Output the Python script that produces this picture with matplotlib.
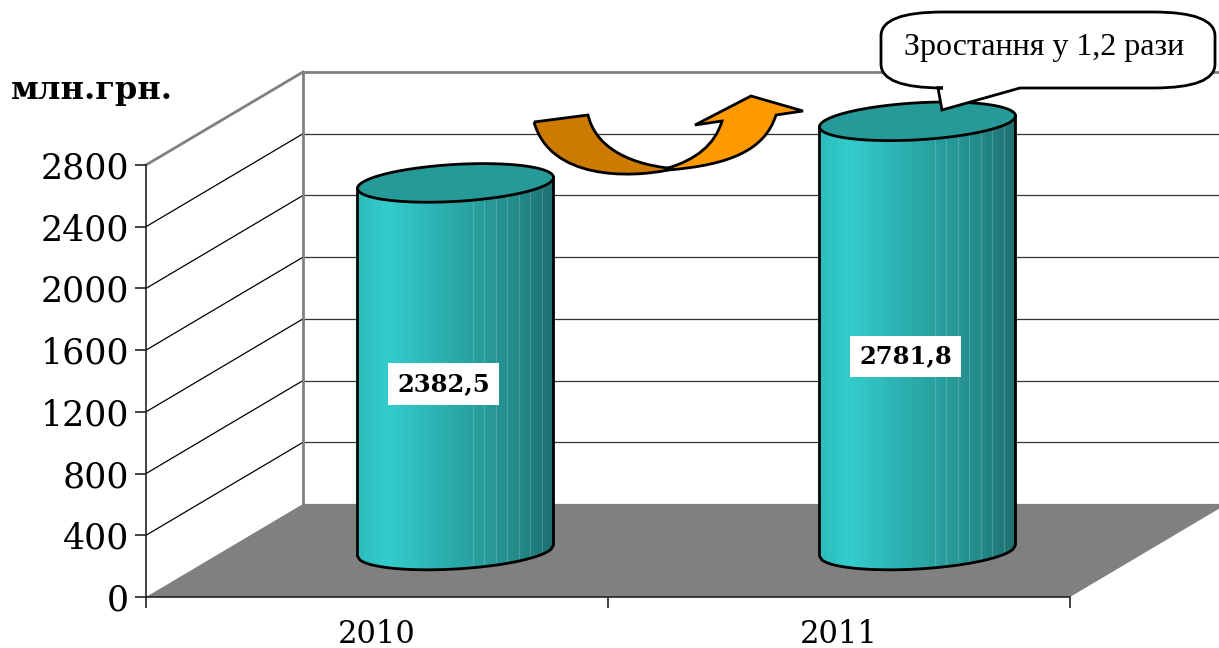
import matplotlib
matplotlib.use("Agg")
import matplotlib.pyplot as plt
import numpy as np
from matplotlib.colors import LinearSegmentedColormap
from matplotlib.patches import PathPatch
from matplotlib.path import Path

categories = ["2010", "2011"]
values = [2382.5, 2781.8]
value_labels = ["2382,5", "2781,8"]
y_ticks = [0, 400, 800, 1200, 1600, 2000, 2400, 2800]
unit_label = "млн.грн."
callout_text = "Зростання у 1,2 рази"

W, H = 1219, 648
AX_L, AX_R, AX_T, AX_B = 146, 1070, 165, 597
PX_X = 2 / (AX_R - AX_L)      # x data units per pixel
PX_Y = 2800 / (AX_B - AX_T)   # y data units per pixel
DEPTH_X = 157 * PX_X          # the back wall sits up and to the right
DEPTH_Y = 93 * PX_Y

fig = plt.figure(figsize=(W / 100, H / 100), dpi=100)
ax = fig.add_axes([AX_L / W, 1 - AX_B / H, (AX_R - AX_L) / W, (AX_B - AX_T) / H])
ax.set_xlim(-0.5, 1.5)
ax.set_ylim(0, 2800)
ax.patch.set_alpha(0)
for side in ["top", "right"]:
    ax.spines[side].set_visible(False)
for side in ["left", "bottom"]:
    ax.spines[side].set_color("#222222")
    ax.spines[side].set_linewidth(1.2)

# floor
ax.fill([-0.5, 1.5, 1.5 + DEPTH_X, -0.5 + DEPTH_X], [0, 0, DEPTH_Y, DEPTH_Y],
        color="#808080", lw=0, clip_on=False, zorder=1)

# walls
for v in y_ticks:
    top = v == y_ticks[-1]
    if v > 0:
        ax.plot([-0.5, -0.5 + DEPTH_X], [v, v + DEPTH_Y], clip_on=False, zorder=1.5,
                color="#808080" if top else "black", lw=2 if top else 0.9)
    ax.plot([-0.5 + DEPTH_X, 1.5 + DEPTH_X], [v + DEPTH_Y, v + DEPTH_Y], clip_on=False, zorder=1.5,
            color="#808080" if top or v == 0 else "#333333", lw=2 if top else 0.9)
ax.plot([-0.5 + DEPTH_X] * 2, [DEPTH_Y, 2800 + DEPTH_Y], color="#808080", lw=2, clip_on=False, zorder=1.5)

# cylinders, half way into the depth of the chart
cmap = LinearSegmentedColormap.from_list("cyl", [
    (0.0, "#2cbcbc"), (0.15, "#33cccc"), (0.5, "#2aa8a8"), (0.8, "#248c8c"), (1.0, "#1e6f6f")])
R_X, R_Y, TILT = 98 * PX_X, 18.5 * PX_Y, 5.5 * PX_Y
STRIPS = 34
for i, val in enumerate(values):
    cx = i + DEPTH_X / 2
    cy = DEPTH_Y / 2
    c = np.linspace(-1, 1, 81)
    front = TILT * c - R_Y * np.sqrt(1 - c ** 2)
    edges = np.linspace(-1, 1, STRIPS + 1)
    for k in range(STRIPS):
        cc = np.linspace(edges[k], edges[k + 1] + 0.01, 5).clip(-1, 1)
        f = TILT * cc - R_Y * np.sqrt(1 - cc ** 2)
        ax.fill_between(cx + R_X * cc, cy + f, cy + val + f, color=cmap((k + 0.5) / STRIPS),
                        lw=0, clip_on=False, zorder=3)
        if edges[k] > 0.15 and k % 2 == 0:
            ax.plot(cx + R_X * cc[[0, 0]], cy + f[0] + np.array([0, val]), color="white", alpha=0.18,
                    lw=0.8, clip_on=False, zorder=3.1)
    # outline of the sides and base
    ax.plot(np.r_[cx - R_X, cx + R_X * c, cx + R_X],
            np.r_[cy + val - TILT, cy + front, cy + val + TILT],
            color="black", lw=2, clip_on=False, zorder=3.2)
    # lid
    t = np.linspace(0, 2 * np.pi, 121)
    ax.fill(cx + R_X * np.cos(t), cy + val + TILT * np.cos(t) + R_Y * np.sin(t),
            facecolor="#269999", edgecolor="black", lw=2, clip_on=False, zorder=3.3)
    ax.text(cx - 12 * PX_X, cy + val * 0.452, value_labels[i], ha="center", va="center",
            family="DejaVu Serif", weight="bold", fontsize=17.5, color="black", zorder=4,
            bbox=dict(facecolor="white", edgecolor="none", pad=6.5))

# axes
ax.set_yticks(y_ticks)
ax.set_xticks(range(len(categories)))
ax.set_xticklabels(categories)
ax.set_xticks([-0.5, 0.5, 1.5], minor=True)
ax.tick_params(axis="y", length=8, width=1.2, pad=4, labelsize=25, color="#222222")
ax.tick_params(axis="x", which="major", length=0, pad=16, labelsize=22)
ax.tick_params(axis="x", which="minor", length=8, width=1.2, color="#222222")
for lab in ax.get_xticklabels() + ax.get_yticklabels():
    lab.set_family("DejaVu Serif")

# shapes and notes drawn on top, in picture pixels
over = fig.add_axes([0, 0, 1, 1], zorder=5)
over.set_xlim(0, W)
over.set_ylim(H, 0)
over.axis("off")

over.text(92, 91, unit_label, ha="center", va="center", family="DejaVu Serif", weight="bold", fontsize=23)

C3, C4, L = Path.CURVE3, Path.CURVE4, Path.LINETO
orange = Path(
    [(668, 168), (695, 160), (715, 145), (722, 121), (695, 125), (751, 96), (803, 111), (776, 115),
     (765, 150), (730, 165), (668, 170), (668, 168)],
    [Path.MOVETO, C4, C4, C4, L, L, L, L, C4, C4, C4, L])
dark = Path(
    [(534, 122), (588, 115), (595, 145), (625, 163), (668, 168), (668, 170), (630, 178), (550, 180), (534, 122)],
    [Path.MOVETO, L, C4, C4, C4, L, C4, C4, C4])
over.add_patch(PathPatch(orange, facecolor="#ff9900", edgecolor="black", lw=2))
over.add_patch(PathPatch(dark, facecolor="#cc7a00", edgecolor="black", lw=2))

x0, x1, y0, y1 = 881, 1215, 12, 88
RX, RY = 62, 24
callout = Path(
    [(x0 + RX, y0), (x1 - RX, y0), (x1, y0), (x1, y0 + RY), (x1, y1 - RY), (x1, y1), (x1 - RX, y1),
     (1020, y1), (942, 110), (938, y1), (x0 + RX, y1), (x0, y1), (x0, y1 - RY), (x0, y0 + RY),
     (x0, y0), (x0 + RX, y0)],
    [Path.MOVETO, L, C3, C3, L, C3, C3, L, L, L, L, C3, C3, L, C3, C3])
over.add_patch(PathPatch(callout, facecolor="white", edgecolor="black", lw=2))
over.text(1044, 47, callout_text, ha="center", va="center", family="Liberation Serif", fontsize=23)

fig.savefig("out.png", dpi=100)
